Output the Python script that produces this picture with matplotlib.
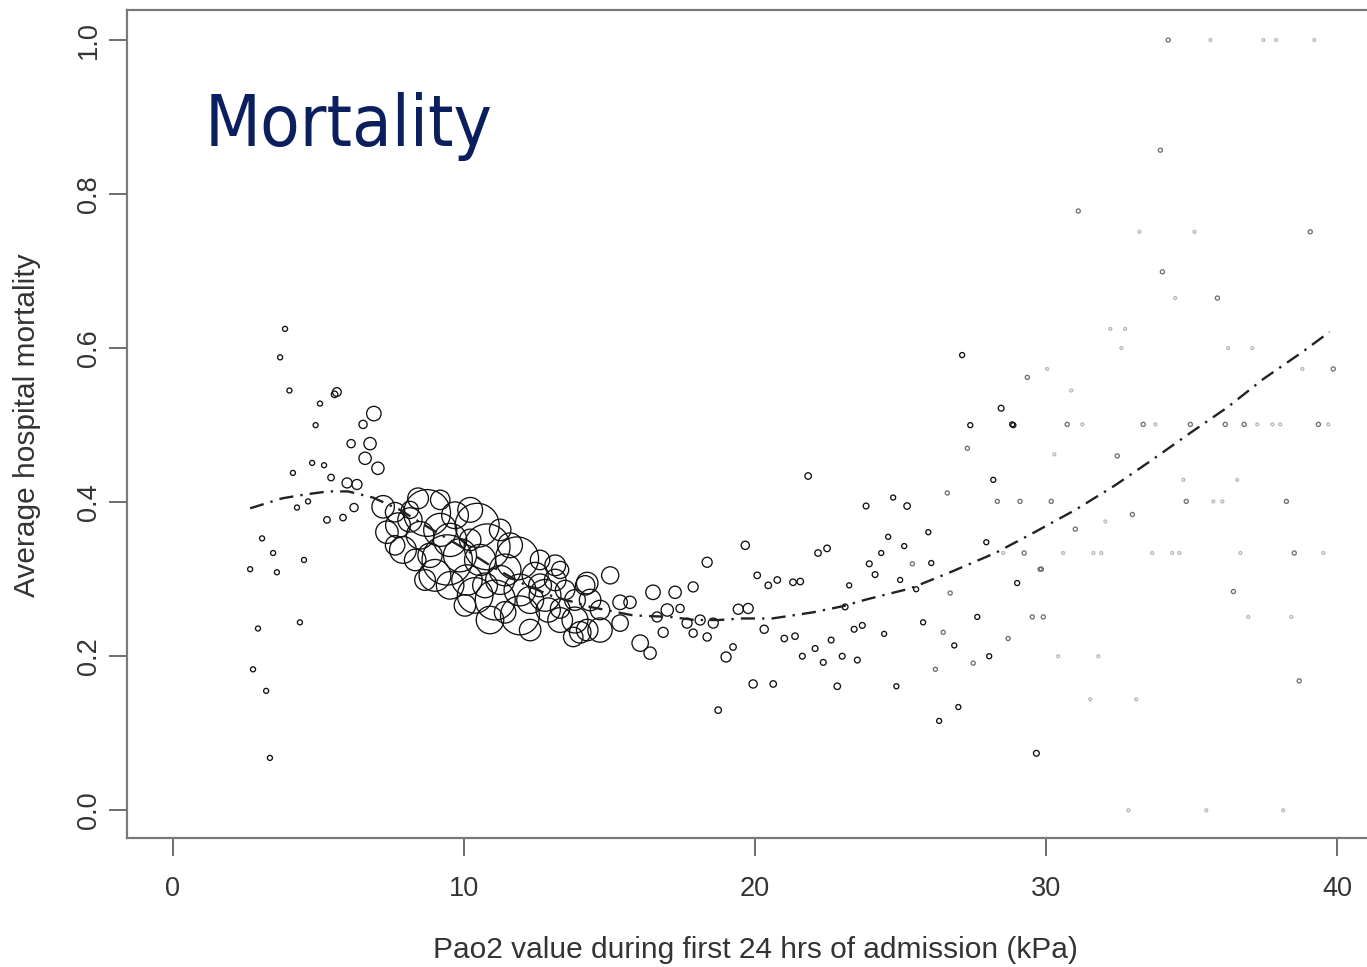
import numpy as np
import matplotlib
matplotlib.use("Agg")
import matplotlib.pyplot as plt

# ---- data: (PaO2 kPa, average mortality, number of patients) ----
left_x = [3.85, 3.68, 4.0, 5.63, 5.55, 5.05, 4.9, 6.9, 6.53, 6.12, 6.77, 6.6, 7.04, 4.78, 5.19,
          4.12, 5.43, 5.98, 6.32, 6.22, 5.84, 5.29, 4.26, 4.64, 3.06, 3.44, 4.5, 2.65, 3.57, 4.36,
          2.92, 2.75, 3.2, 3.33]
left_y = [0.625, 0.588, 0.545, 0.543, 0.540, 0.528, 0.5, 0.515, 0.501, 0.476, 0.476, 0.457, 0.444,
          0.451, 0.448, 0.438, 0.432, 0.425, 0.423, 0.393, 0.380, 0.377, 0.393, 0.401, 0.353, 0.334,
          0.325, 0.313, 0.309, 0.244, 0.236, 0.183, 0.155, 0.068]
left_n = [3, 3, 3, 9, 5, 3, 3, 25, 8, 8, 18, 18, 18, 3, 3,
          3, 5, 12, 12, 8, 5, 5, 3, 3, 3, 3, 3, 3, 3, 3,
          3, 3, 3, 3]

core_x = [7.22, 7.35, 7.63, 7.90, 8.14, 8.73, 8.49, 9.18, 9.42, 9.00, 9.69, 10.45, 10.79, 10.10,
          9.86, 10.38, 11.07, 11.41, 11.82, 11.92, 11.92, 12.44, 12.78, 13.13, 12.89, 13.47, 13.30,
          13.81, 13.99, 14.33, 14.67, 14.16, 15.02, 14.67, 7.63, 8.32, 8.83, 11.24, 9.52, 10.89,
          12.27, 13.30, 8.14, 9.18, 10.03, 11.41, 12.61, 10.21,
          7.73, 8.42, 9.52, 10.55, 11.24, 12.27, 10.21, 11.58, 12.61, 13.30, 13.81, 13.13, 10.72, 8.66]
core_y = [0.394, 0.361, 0.387, 0.338, 0.377, 0.386, 0.357, 0.364, 0.325, 0.305, 0.383, 0.370, 0.342,
          0.299, 0.331, 0.279, 0.273, 0.312, 0.327, 0.286, 0.253, 0.305, 0.279, 0.299, 0.260, 0.286,
          0.312, 0.247, 0.231, 0.273, 0.234, 0.292, 0.305, 0.260, 0.344, 0.325, 0.331, 0.364, 0.292,
          0.247, 0.234, 0.262, 0.390, 0.403, 0.266, 0.257, 0.325, 0.351,
          0.370, 0.405, 0.351, 0.325, 0.299, 0.273, 0.390, 0.344, 0.292, 0.247, 0.273, 0.318, 0.292, 0.299]
core_n = [60, 60, 45, 85, 70, 260, 90, 130, 300, 120, 85, 230, 250, 110,
          130, 150, 190, 120, 220, 120, 180, 80, 120, 55, 70, 45, 35,
          80, 55, 55, 70, 45, 35, 45, 45, 55, 70, 55, 90, 90,
          55, 45, 35, 45, 55, 55, 45, 55,
          73, 51, 131, 115, 100, 86, 73, 73, 62, 73, 51, 51, 73, 51]

mid_x = [14.23, 18.35, 17.87, 16.49, 17.25, 17.42, 16.63, 16.98, 16.84, 15.36, 15.70, 16.05, 16.39,
         17.66, 18.11, 18.56, 17.87, 18.35, 15.36, 14.23, 13.75, 19.66, 19.42, 19.76, 20.31, 19.0,
         19.24, 19.93, 20.62, 18.73, 20.07, 20.45, 20.76, 21.3, 21.55, 22.16, 22.47, 21.82, 21.0,
         21.37, 21.62, 22.06, 22.34, 22.61, 22.99, 23.51, 23.4, 23.68, 24.43, 22.82, 23.09, 23.23,
         23.92, 24.12, 23.81, 24.74, 25.22, 24.57, 24.33, 25.12, 25.4, 26.05, 24.98, 25.53, 25.95,
         26.6, 27.39, 28.45, 28.87, 27.29, 28.18, 28.32, 29.1, 27.94, 29.24, 29.83, 29.0, 26.7,
         25.77, 26.46, 26.84, 27.63, 28.69, 28.04, 27.49, 24.85, 26.19, 26.98, 26.32, 29.52, 29.9,
         27.11, 29.66]
mid_y = [0.295, 0.322, 0.290, 0.283, 0.283, 0.262, 0.251, 0.260, 0.231, 0.270, 0.270, 0.217, 0.204,
         0.243, 0.247, 0.243, 0.230, 0.225, 0.243, 0.234, 0.225, 0.344, 0.261, 0.262, 0.235, 0.199,
         0.212, 0.164, 0.164, 0.130, 0.305, 0.292, 0.299, 0.296, 0.297, 0.334, 0.340, 0.434, 0.223,
         0.226, 0.200, 0.210, 0.192, 0.221, 0.200, 0.195, 0.235, 0.240, 0.229, 0.161, 0.264, 0.292,
         0.320, 0.306, 0.395, 0.406, 0.395, 0.355, 0.334, 0.343, 0.320, 0.321, 0.299, 0.287, 0.361,
         0.412, 0.500, 0.522, 0.500, 0.470, 0.429, 0.401, 0.401, 0.348, 0.334, 0.313, 0.295, 0.282,
         0.244, 0.231, 0.214, 0.251, 0.223, 0.200, 0.191, 0.161, 0.183, 0.134, 0.116, 0.251, 0.251,
         0.591, 0.074]
mid_n = [55, 12, 12, 25, 18, 8, 12, 18, 12, 25, 18, 32, 18,
         12, 12, 12, 8, 8, 32, 55, 45, 8, 12, 12, 8, 12,
         5, 8, 5, 5, 5, 5, 5, 5, 5, 5, 5, 5, 5,
         5, 4, 4, 4, 4, 4, 4, 4, 4, 3, 5, 4, 3,
         4, 4, 4, 3, 5, 3, 3, 3, 2, 3, 3, 3, 3,
         2, 3, 4, 3, 2, 3, 2, 2, 3, 2, 2, 3, 2,
         3, 2, 3, 3, 2, 3, 2, 3, 2, 3, 3, 2, 2,
         3, 4]

high_x = [32.2, 32.71, 32.58, 36.25, 37.08, 30.03, 29.35, 30.86, 38.8, 39.86, 28.83, 30.72, 31.24,
          33.33, 33.75, 34.95, 36.15, 36.8, 37.25, 37.77, 38.04, 39.35, 39.69, 30.28, 32.44, 34.71,
          36.56, 30.17, 34.81, 35.74, 36.05, 38.25, 32.96, 32.03, 31.0, 28.52, 30.58, 31.62, 31.89,
          33.64, 34.33, 34.57, 36.67, 38.52, 39.52, 29.79, 36.43, 36.94, 38.42, 30.41, 31.79, 38.69,
          31.51, 33.09, 34.19, 35.64, 37.46, 37.9, 39.21, 33.92, 31.1, 33.2, 35.09, 39.07, 33.99,
          34.43, 35.88, 32.82, 35.5, 38.14]
high_y = [0.625, 0.625, 0.600, 0.600, 0.600, 0.573, 0.562, 0.545, 0.573, 0.573, 0.501, 0.501, 0.501,
          0.501, 0.501, 0.501, 0.501, 0.501, 0.501, 0.501, 0.501, 0.501, 0.501, 0.462, 0.460, 0.429,
          0.429, 0.401, 0.401, 0.401, 0.401, 0.401, 0.384, 0.375, 0.365, 0.334, 0.334, 0.334, 0.334,
          0.334, 0.334, 0.334, 0.334, 0.334, 0.334, 0.313, 0.284, 0.251, 0.251, 0.200, 0.200, 0.168,
          0.144, 0.144, 1.0, 1.0, 1.0, 1.0, 1.0, 0.857, 0.778, 0.751, 0.751, 0.751, 0.699,
          0.665, 0.665, 0.0, 0.0, 0.0]
high_n = [1, 1, 1, 1, 1, 1, 2, 1, 1, 2, 3, 2, 1,
          2, 1, 2, 2, 2, 1, 1, 1, 2, 1, 1, 2, 1,
          1, 2, 2, 1, 1, 2, 2, 1, 2, 1, 1, 1, 1,
          1, 1, 1, 1, 2, 1, 2, 2, 1, 1, 1, 1, 2,
          1, 1, 2, 1, 1, 1, 1, 2, 2, 1, 1, 2, 2,
          1, 2, 1, 1, 1]

# smoothed (lowess-type) fit
fit_x = [2.65, 3.75, 4.54, 5.33, 6.01, 6.87, 7.80, 8.83, 9.86, 10.89, 11.92, 12.96, 14.33, 15.81,
         17.08, 17.94, 18.73, 19.55, 20.58, 21.99, 23.02, 23.85, 25.33, 26.70, 28.25, 29.55, 31.0,
         32.37, 33.64, 34.95, 36.22, 37.46, 38.80, 39.73]
fit_y = [0.392, 0.405, 0.410, 0.414, 0.414, 0.406, 0.390, 0.366, 0.343, 0.318, 0.296, 0.279, 0.264,
         0.253, 0.251, 0.247, 0.247, 0.249, 0.249, 0.257, 0.265, 0.274, 0.288, 0.309, 0.334, 0.360,
         0.390, 0.422, 0.455, 0.490, 0.523, 0.560, 0.595, 0.621]

x_ticks = [0, 10, 20, 30, 40]
y_ticks = [0.0, 0.2, 0.4, 0.6, 0.8, 1.0]
y_ticklabels = ["0.0", "0.2", "0.4", "0.6", "0.8", "1.0"]

# ---- figure ----
W, H, DPI = 1367, 967, 100
fig = plt.figure(figsize=(W / DPI, H / DPI), dpi=DPI)
fig.patch.set_facecolor("white")
ax = fig.add_axes([127 / W, (H - 838) / H, (1381 - 127) / W, 828 / H])
ax.set_xlim(-1.58, 41.5)
ax.set_ylim(-0.036, 1.039)

all_x = np.array(left_x + core_x + mid_x + high_x)
all_y = np.array(left_y + core_y + mid_y + high_y)
all_n = np.array(left_n + core_n + mid_n + high_n)

r_px = 1.45 * np.sqrt(all_n)
sizes = (2 * r_px * 72 / DPI) ** 2
cols = np.where(all_n == 1, "#b8b8b8", np.where(all_n == 2, "#707070", "#111111"))
order = np.argsort(-all_n)
ax.scatter(all_x[order], all_y[order], s=sizes[order], facecolors="none",
           edgecolors=cols[order], linewidths=0.95, zorder=3)

ax.plot(fit_x, fit_y, color="#222222", lw=1.7, zorder=4,
        dashes=(6, 3, 1, 3))

gray = "#7a7a7a"
for side in ["left", "bottom", "top", "right"]:
    ax.spines[side].set_color(gray)
    ax.spines[side].set_linewidth(1.6)
ax.set_xticks(x_ticks)
ax.set_yticks(y_ticks)
ax.set_yticklabels(y_ticklabels, rotation=90, va="center")
ax.tick_params(axis="both", direction="out", length=13, width=1.2, color="#555555",
               labelsize=19.5, labelcolor="#333333")
ax.tick_params(axis="x", pad=14)
ax.tick_params(axis="y", pad=5)
for lab in ax.get_xticklabels() + ax.get_yticklabels():
    lab.set_family("Liberation Sans")

fig.text(755 / W, 1 - 950 / H, "Pao2 value during first 24 hrs of admission (kPa)",
         ha="center", va="center", fontsize=21.5, color="#333333", family="Liberation Sans")
fig.text(27 / W, 1 - 425 / H, "Average hospital mortality", rotation=90,
         ha="center", va="center", fontsize=21.5, color="#333333", family="Liberation Sans")
fig.text(205 / W, 1 - 146 / H, "Mortality", ha="left", va="baseline",
         fontsize=52, color="#0b1f5e", family="DejaVu Sans", fontstretch="condensed")

fig.savefig("out.png", dpi=DPI)
